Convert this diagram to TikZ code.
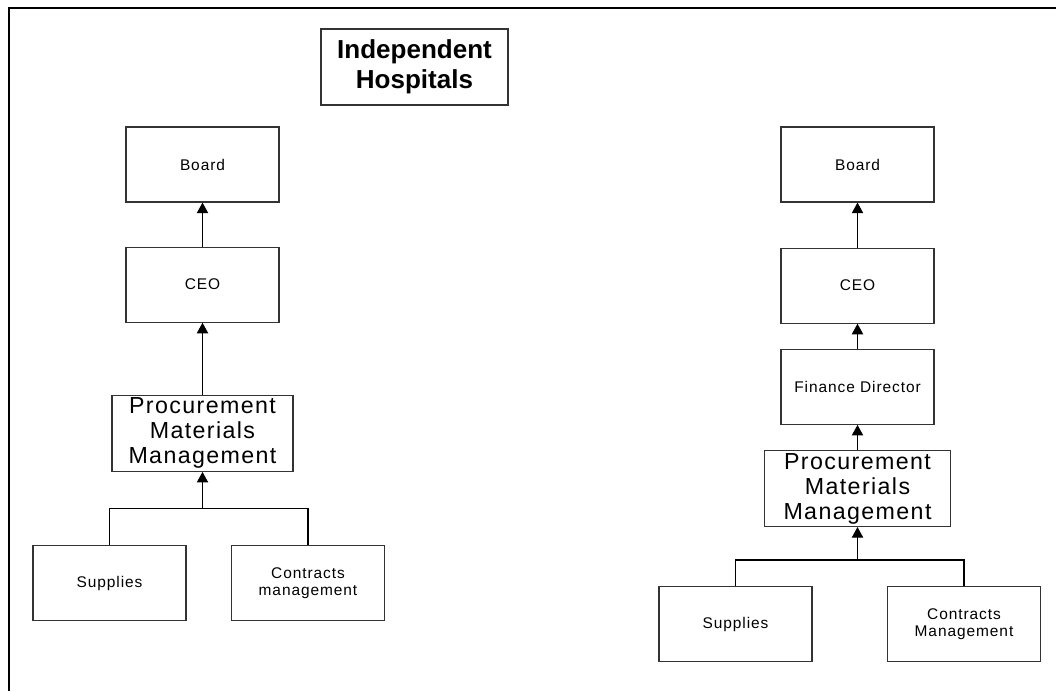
\documentclass[tikz,border=0pt]{standalone}
\usepackage{fontspec}
\setmainfont{Liberation Sans}
\newfontfamily\spacedfont[LetterSpace=6]{Liberation Sans}
\usepackage{tikz}
\usetikzlibrary{arrows.meta}
\usetikzlibrary{positioning}
\tikzstyle{box} = [rectangle, minimum width=3.825cm, minimum height=1.875cm, text centered, draw=black!80, line width=0.8pt, font=\spacedfont\fontsize{11}{12.5}\selectfont]
\tikzstyle{bigbox} = [rectangle, minimum width=4.525cm, minimum height=1.9cm, inner sep=1pt, text centered, draw=black!80, line width=0.8pt, font=\spacedfont\fontsize{16.5}{17.8}\selectfont]
\tikzstyle{heading} = [rectangle, minimum width=4.675cm, minimum height=1.9cm, text centered, draw=black!80, line width=0.8pt, font=\bfseries\fontsize{18.5}{21}\selectfont]
\tikzstyle{arrow} = [line width=0.8pt,-{Triangle[length=7.5pt,width=8pt]}]
\tikzstyle{line} = [line width=0.8pt]

\begin{document}
\begin{tikzpicture}[x=0.025cm, y=-0.025cm]
\useasboundingbox (0,0) rectangle (1056,691);
\draw [line width=1.5pt] (1056,8) -| (9,691);

\node (title) [heading, align=center] at (414.5,67) {Independent\\Hospitals};

% left side
\node (l_board) [box] at (202.5,164.5) {Board};
\node (l_ceo) [box, below=1.1cm of l_board] {CEO};
\node (l_pmm) [bigbox, align=center, below=1.8cm of l_ceo] {Procurement\\Materials\\Management};
\node (l_sup) [box] at (109.5,583) {Supplies};
\node (l_con) [box, align=center] at (308,583) {Contracts\\management};
\coordinate [below=0.925cm of l_pmm] (l_join);

\draw [arrow] (l_ceo) -- (l_board);
\draw [arrow] (l_pmm) -- (l_ceo);
\draw [line] (l_sup.north) |- (l_join) -| (l_con.north);
\draw [arrow] (l_join) -- (l_pmm);

% right side
\node (r_board) [box] at (857.5,164.5) {Board};
\node (r_ceo) [box, below=1.125cm of r_board] {CEO};
\node (r_fin) [box, below=0.625cm of r_ceo] {Finance Director};
\node (r_pmm) [bigbox, align=center, minimum width=4.65cm, below=0.625cm of r_fin] {Procurement\\Materials\\Management};
\node (r_sup) [box] at (735.5,624) {Supplies};
\node (r_con) [box, align=center] at (964,624) {Contracts\\Management};
\coordinate [below=0.825cm of r_pmm] (r_join);

\draw [arrow] (r_ceo) -- (r_board);
\draw [arrow] (r_fin) -- (r_ceo);
\draw [arrow] (r_pmm) -- (r_fin);
\draw [line] (r_sup.north) |- (r_join) -| (r_con.north);
\draw [arrow] (r_join) -- (r_pmm);
\end{tikzpicture}
\end{document}
